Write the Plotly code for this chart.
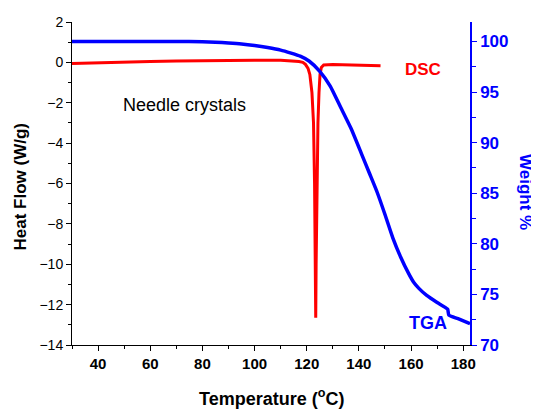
import plotly.graph_objects as go

# DSC data (temperature in °C, heat flow in W/g)
dsc_temp = [30, 40, 50, 60, 70, 80, 90, 100, 110, 115, 117, 118.5, 119.5, 120.5, 121.2, 122.0, 122.6,
            123.0, 123.3, 123.45, 123.6, 123.9, 124.3, 124.7, 125.1, 125.6, 126.5, 130, 135, 140, 145, 148.3]
dsc_flow = [-0.05, -0.03, 0.0, 0.04, 0.07, 0.09, 0.1, 0.1, 0.1, 0.08, 0.04, 0.0, -0.1, -0.3, -0.6, -1.5, -3.0,
            -6.0, -10.0, -12.65, -10.0, -6.0, -3.0, -1.5, -0.6, -0.25, -0.13, -0.1, -0.12, -0.15, -0.17, -0.17]

# TGA data (temperature in °C, weight %)
tga_temp = [30, 50, 70, 80, 85, 90, 95, 100, 105, 110, 114, 117.5, 121, 125, 129, 133, 137, 141, 144, 147,
            150, 153, 156, 159, 161, 163, 166, 170, 174, 174.5, 178, 182.6]
tga_weight = [100, 100, 100, 99.98, 99.93, 99.85, 99.75, 99.6, 99.4, 99.15, 98.85, 98.55, 98.05, 97.05, 95.6,
              93.5, 91.4, 88.9, 87.0, 85.1, 82.9, 80.6, 78.7, 77.1, 76.2, 75.6, 74.9, 74.2, 73.55, 72.95, 72.6, 72.1]

FONT = "Arial, Liberation Sans, sans-serif"
BLUE = "#0000FF"
RED = "#FF0000"

# the page body adds an 8px offset; figure sized so that plot area lands at screen x 72..470, y 22..345
OFF = 8
W, H = 539 - OFF, 409 - OFF
L, R, T, B = 72 - OFF, 69, 22 - OFF, 64
PW, PH = W - L - R, H - T - B


def px(x):  # screen px -> paper x
    return (x - OFF - L) / PW


def py(y):  # screen px -> paper y
    return 1 - (y - OFF - T) / PH


fig = go.Figure()
fig.add_trace(go.Scatter(x=dsc_temp, y=dsc_flow, mode="lines", line=dict(color=RED, width=3),
                         xaxis="x", yaxis="y", showlegend=False, hoverinfo="skip"))
fig.add_trace(go.Scatter(x=tga_temp, y=tga_weight, mode="lines",
                         line=dict(color=BLUE, width=3.5, shape="spline", smoothing=0.5),
                         xaxis="x", yaxis="y2", showlegend=False, hoverinfo="skip"))

xr = [30, 182.6]
fig.update_layout(
    width=W, height=H,
    margin=dict(l=L, r=R, t=T, b=B, autoexpand=False),
    paper_bgcolor="white", plot_bgcolor="white",
    font=dict(family=FONT, color="black"),
    xaxis=dict(range=xr, dtick=20, tick0=0, ticks="outside", ticklen=5, tickwidth=1, tickcolor="black",
               showline=True, linecolor="black", linewidth=1, showgrid=False, zeroline=False,
               tickfont=dict(family=FONT, size=15, color="black", weight="bold"),
               minor=dict(dtick=10, tick0=0, ticks="outside", ticklen=3, tickcolor="black", showgrid=False),
               anchor="y"),
    xaxis2=dict(range=xr, dtick=20, tick0=0, ticks="inside", ticklen=5, tickcolor="black",
                showline=True, linecolor="black", linewidth=1, showgrid=False, zeroline=False,
                showticklabels=False, overlaying="x", side="top", anchor="y",
                minor=dict(dtick=10, tick0=0, ticks="inside", ticklen=3, tickcolor="black", showgrid=False)),
    yaxis=dict(range=[-14, 2], dtick=2, tick0=0, ticks="outside", ticklen=5, tickcolor="black",
               showline=True, linecolor="black", linewidth=1, showgrid=False, zeroline=False,
               tickfont=dict(family=FONT, size=14, color="black"),
               minor=dict(dtick=1, tick0=0, ticks="outside", ticklen=3, tickcolor="black", showgrid=False)),
    yaxis2=dict(range=[70, 101.93], dtick=5, tick0=0, ticks="outside", ticklen=5, tickcolor=BLUE,
                showline=True, linecolor=BLUE, linewidth=1.5, showgrid=False, zeroline=False,
                overlaying="y", side="right", anchor="x",
                tickfont=dict(family=FONT, size=17, color=BLUE, weight="bold"),
                minor=dict(dtick=2.5, tick0=0, ticks="outside", ticklen=4, tickcolor=BLUE, showgrid=False)),
    annotations=[
        dict(text="Temperature (<sup>o</sup>C)", x=px(271.5), y=py(398), xref="paper", yref="paper",
             xanchor="center", yanchor="middle", showarrow=False,
             font=dict(family=FONT, size=18, color="black", weight="bold")),
        dict(text="Heat Flow (W/g)", x=px(20), y=py(186.5), xref="paper", yref="paper",
             xanchor="center", yanchor="middle", showarrow=False, textangle=-90,
             font=dict(family=FONT, size=17, color="black", weight="bold")),
        dict(text="Weight %", x=px(526), y=py(192), xref="paper", yref="paper",
             xanchor="center", yanchor="middle", showarrow=False, textangle=90,
             font=dict(family=FONT, size=17, color=BLUE, weight="bold")),
        dict(text="Needle crystals", x=px(184), y=py(105), xref="paper", yref="paper",
             xanchor="center", yanchor="middle", showarrow=False,
             font=dict(family=FONT, size=18, color="black")),
        dict(text="DSC", x=px(423), y=py(69), xref="paper", yref="paper",
             xanchor="center", yanchor="middle", showarrow=False,
             font=dict(family=FONT, size=17, color=RED, weight="bold")),
        dict(text="TGA", x=px(427.5), y=py(323), xref="paper", yref="paper",
             xanchor="center", yanchor="middle", showarrow=False,
             font=dict(family=FONT, size=18, color=BLUE, weight="bold")),
    ],
)

fig.write_html("out.html")
